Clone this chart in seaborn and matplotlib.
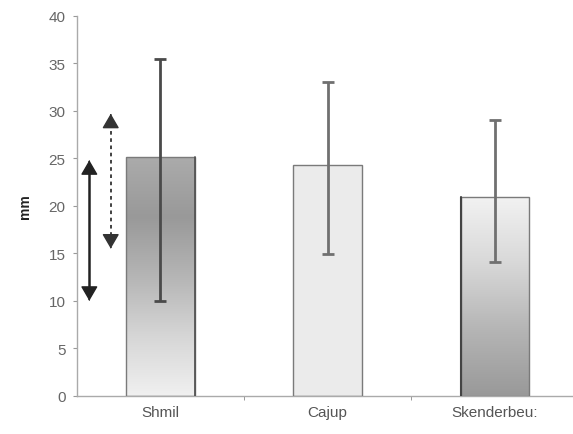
import matplotlib
matplotlib.use("Agg")
import matplotlib.pyplot as plt
import seaborn as sns
import numpy as np
from matplotlib.colors import LinearSegmentedColormap

sites = ["Shmil", "Cajup", "Skenderbeu:"]
means = [25.1, 24.3, 20.9]
err_low = [10.0, 14.9, 14.1]
err_high = [35.5, 33.0, 29.0]

# arrow marks drawn next to the first bar (value ranges)
solid_arrow = (10.0, 24.8)
dashed_arrow = (15.5, 29.7)

sns.set_style("white")
plt.rcParams["font.family"] = ["Liberation Sans", "DejaVu Sans"]

fig = plt.figure(figsize=(5.73, 4.35), dpi=100)
ax = fig.add_axes([0.134, 0.088, 0.866, 0.873])

sns.barplot(x=sites, y=means, ax=ax, width=0.41, color="#ebebeb",
            edgecolor="#7a7a7a", linewidth=1.0, zorder=2)

# vertical gradients, stops listed from bar top to bar bottom
grads = [
    ["#ababab", "#999999", "#b5b5b5", "#d6d6d6", "#f0f0f0"],
    ["#ececec", "#ebebeb"],
    ["#f2f2f2", "#d8d8d8", "#b5b5b5", "#999999"],
]
for patch, stops in zip(ax.patches, grads):
    x0, y0 = patch.get_x(), patch.get_y()
    w, h = patch.get_width(), patch.get_height()
    cmap = LinearSegmentedColormap.from_list("g", stops)
    img = ax.imshow(np.linspace(0, 1, 256).reshape(-1, 1), cmap=cmap,
                    aspect="auto", extent=[x0, x0 + w, y0, y0 + h],
                    origin="upper", zorder=2.5)
    img.set_clip_path(patch)
    patch.set_facecolor("none")
    patch.set_zorder(3)

# darker edge on one side as in the original
p0, p2 = ax.patches[0], ax.patches[2]
ax.plot([p0.get_x() + p0.get_width()] * 2, [0, means[0]], color="#555555", lw=1.3, zorder=3.5)
ax.plot([p2.get_x()] * 2, [0, means[2]], color="#444444", lw=1.5, zorder=3.5)

xs = np.arange(len(sites))
yerr = [np.array(means) - np.array(err_low), np.array(err_high) - np.array(means)]
ecols = ["#4a4a4a", "#707070", "#707070"]
for i in xs:
    ax.errorbar(i, means[i], yerr=[[yerr[0][i]], [yerr[1][i]]], fmt="none",
                ecolor=ecols[i], elinewidth=2.0, capsize=4, capthick=2.0, zorder=4)


def range_arrow(x, lo, hi, color, lw, ls):
    ax.plot([x, x], [lo + 0.6, hi - 0.6], color=color, lw=lw, ls=ls, zorder=5)
    for tip, back in [(hi, hi - 0.2), (lo, lo + 0.2)]:
        ax.annotate("", xy=(x, tip), xytext=(x, back),
                    arrowprops=dict(arrowstyle="-|>,head_length=0.6,head_width=0.35",
                                    color=color, lw=1.0, mutation_scale=15,
                                    shrinkA=0, shrinkB=0), zorder=5)


range_arrow(-0.425, solid_arrow[0], solid_arrow[1], "#222222", 1.8, "-")
range_arrow(-0.297, dashed_arrow[0], dashed_arrow[1], "#333333", 1.3, (0, (2, 2)))

ax.set_xlim(-0.5, 2.467)
ax.set_ylim(0, 40)
ax.set_yticks(np.arange(0, 41, 5))
ax.set_xticks([0.5, 1.5], minor=True)
ax.tick_params(axis="x", which="major", length=0, pad=7, labelsize=11, labelcolor="#555555")
ax.tick_params(axis="x", which="minor", length=3, color="#888888", direction="out", bottom=True)
ax.tick_params(axis="y", length=3, color="#999999", direction="out", left=True,
               labelsize=11, labelcolor="#666666", pad=5)
sns.despine(ax=ax)
for s in ["left", "bottom"]:
    ax.spines[s].set_color("#aaaaaa")
    ax.spines[s].set_linewidth(1.0)
ax.set_ylabel("mm", fontsize=10, fontweight="bold", color="#222222", labelpad=12)

fig.savefig("out.png", dpi=100)
